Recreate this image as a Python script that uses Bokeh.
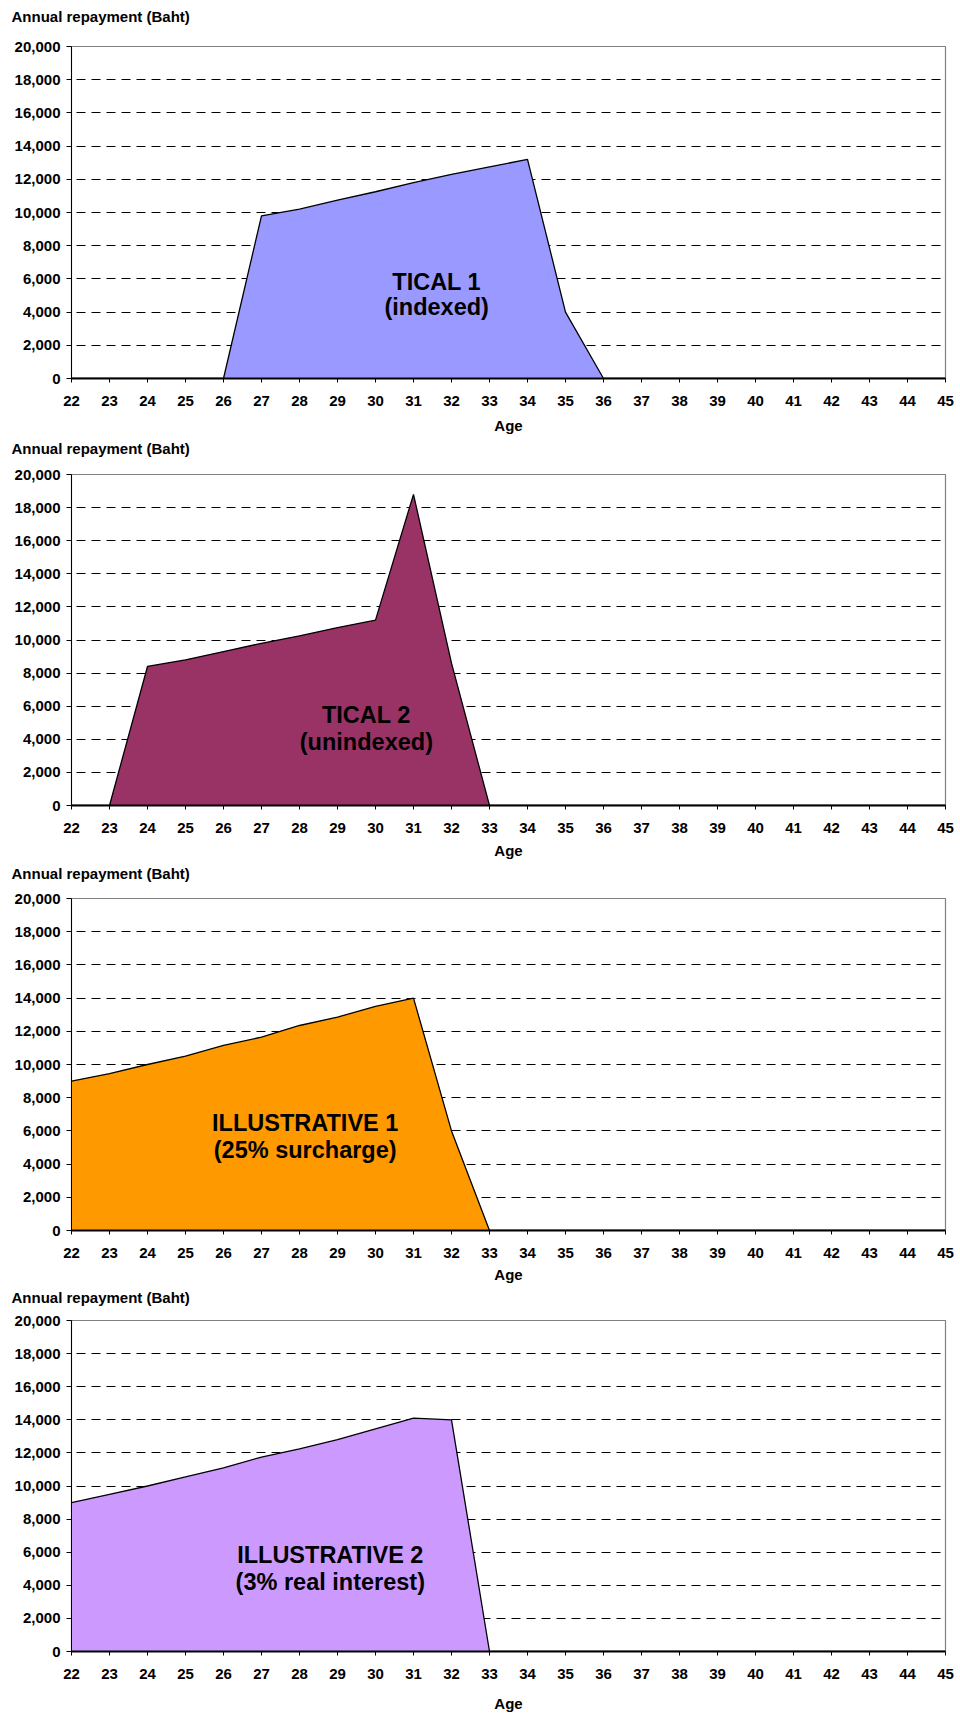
from bokeh.plotting import figure
from bokeh.layouts import column
from bokeh.models import FixedTicker, NumeralTickFormatter, ColumnDataSource
from bokeh.embed import file_html
from bokeh.resources import INLINE
from bokeh.core.properties import value

# ---------------- data ----------------
ages = [22, 23, 24, 25, 26, 27, 28, 29, 30, 31, 32, 33,
        34, 35, 36, 37, 38, 39, 40, 41, 42, 43, 44, 45]

tical1 = [0, 0, 0, 0, 0, 9800, 10200, 10750, 11250, 11800, 12300, 12750,
          13200, 4000, 0, 0, 0, 0, 0, 0, 0, 0, 0, 0]
tical2 = [0, 0, 8400, 8800, 9300, 9800, 10250, 10750, 11200, 18800, 8600, 0,
          0, 0, 0, 0, 0, 0, 0, 0, 0, 0, 0, 0]
illus1 = [9000, 9450, 10000, 10500, 11150, 11650, 12350, 12850, 13500, 14000, 6000, 0,
          0, 0, 0, 0, 0, 0, 0, 0, 0, 0, 0, 0]
illus2 = [9000, 9500, 10000, 10550, 11100, 11750, 12250, 12800, 13450, 14100, 14000, 0,
          0, 0, 0, 0, 0, 0, 0, 0, 0, 0, 0, 0]

series = [tical1, tical2, illus1, illus2]
series_colors = ["#9999FF", "#993366", "#FF9900", "#CC99FF"]

y_ticks = [0, 2000, 4000, 6000, 8000, 10000, 12000, 14000, 16000, 18000, 20000]
grid_ticks = [2000, 4000, 6000, 8000, 10000, 12000, 14000, 16000, 18000]

label_line1 = ["TICAL 1", "TICAL 2", "ILLUSTRATIVE 1", "ILLUSTRATIVE 2"]
label_line2 = ["(indexed)", "(unindexed)", "(25% surcharge)", "(3% real interest)"]
label_x = [31.61, 29.76, 28.15, 28.81]
label_y1 = [5800, 5480, 6490, 5840]
label_y2 = [4300, 3860, 4820, 4180]

y_title = "Annual repayment (Baht)"
x_title = "Age"

# ---------------- layout ----------------
FONT = "Liberation Sans"
W = 954
heights = [437, 425, 424, 429]
borders_top = [46, 36, 35, 33]
borders_bottom = [59, 57, 56, 64]
age_standoff = [8, 6, 5, 13]
title_gap = [22, 18, 17, 15]

figs = []
for i in range(4):
    p = figure(width=W, height=heights[i], x_range=(22, 45), y_range=(0, 20000),
               output_backend="svg", toolbar_location=None,
               min_border_left=71, min_border_right=9,
               min_border_top=borders_top[i], min_border_bottom=borders_bottom[i],
               background_fill_color="white", border_fill_color="white")
    p.outline_line_color = "#808080"
    p.outline_line_width = 1.2

    xax = p.below[0]
    yax = p.left[0]

    # y-axis title, horizontal above the plot area
    p.title.text = y_title
    p.title.align = "left"
    p.title.offset = -60
    p.title.text_font = FONT
    p.title.text_font_style = "bold"
    p.title.text_font_size = "15px"
    p.title.text_color = "black"
    try:
        p.title.padding = dict(left=0, right=0, top=0, bottom=title_gap[i])
        p.title.standoff = 0
    except Exception:
        p.title.standoff = 2 * (title_gap[i] // 2)

    src = ColumnDataSource(dict(x=ages, y=series[i]))
    p.varea(x="x", y1=0, y2="y", source=src, fill_color=series_colors[i], fill_alpha=1.0)
    p.line(x="x", y="y", source=src, line_color="black", line_width=1.3)

    # text in area
    p.text(x=[label_x[i]], y=[label_y1[i]], text=[label_line1[i]],
           text_font=value(FONT), text_font_style="bold", text_font_size="23.5px",
           text_align="center", text_baseline="alphabetic", text_color="black")
    p.text(x=[label_x[i]], y=[label_y2[i]], text=[label_line2[i]],
           text_font=value(FONT), text_font_style="bold", text_font_size="23.5px",
           text_align="center", text_baseline="alphabetic", text_color="black")

    # grids
    p.xgrid.visible = False
    p.ygrid.ticker = FixedTicker(ticks=grid_ticks)
    p.ygrid.grid_line_color = "black"
    p.ygrid.grid_line_width = 1
    p.ygrid.grid_line_dash = "9 6"
    p.ygrid.grid_line_dash_offset = 10

    # axes
    xax.ticker = FixedTicker(ticks=ages)
    yax.ticker = FixedTicker(ticks=y_ticks)
    yax.formatter = NumeralTickFormatter(format="0,0")
    for ax in (xax, yax):
        ax.major_label_text_font = FONT
        ax.major_label_text_font_style = "bold"
        ax.major_label_text_font_size = "15px"
        ax.major_label_text_color = "black"
        ax.axis_line_color = "black"
        ax.major_tick_line_color = "black"
        ax.minor_tick_line_color = None
        ax.major_tick_in = 0
    xax.axis_line_width = 2
    yax.axis_line_width = 1
    xax.major_tick_out = 4
    yax.major_tick_out = 5
    xax.major_label_standoff = 13
    yax.major_label_standoff = 6

    xax.axis_label = x_title
    xax.axis_label_text_font = FONT
    xax.axis_label_text_font_style = "bold"
    xax.axis_label_text_font_size = "15px"
    xax.axis_label_text_color = "black"
    xax.axis_label_standoff = age_standoff[i]

    figs.append(p)

layout = column(*figs, spacing=0)
open("out.html", "w").write(file_html(layout, INLINE))
